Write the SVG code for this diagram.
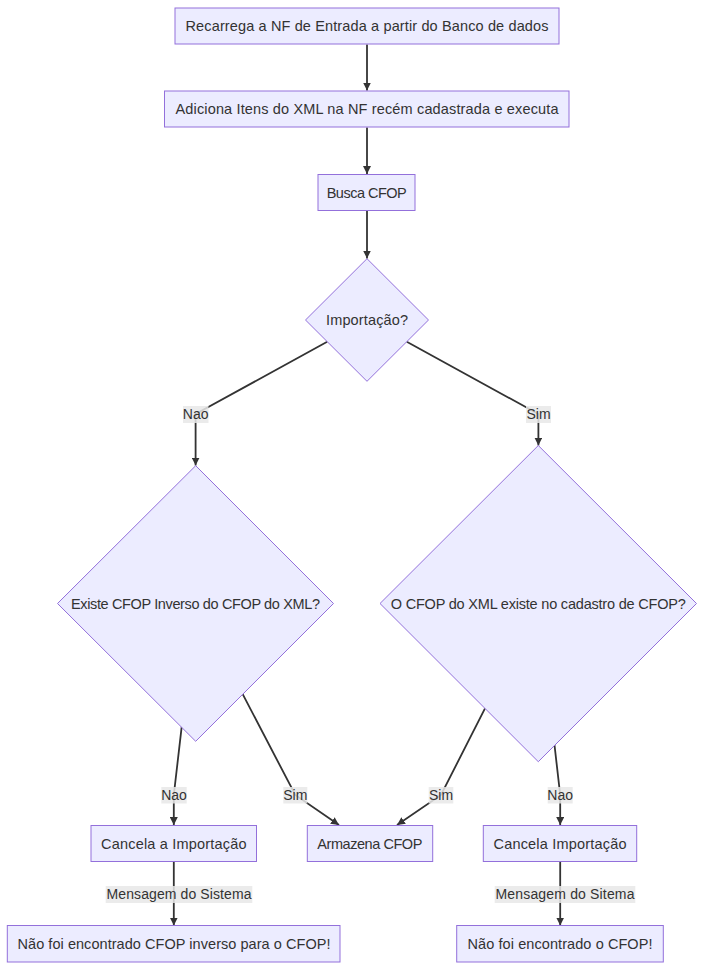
<svg xmlns="http://www.w3.org/2000/svg" width="704" height="970" viewBox="0 0 704 970">
<defs>
<marker id="arrow" viewBox="0 0 10 10" refX="10" refY="5" markerWidth="8" markerHeight="8" markerUnits="userSpaceOnUse" orient="auto">
<path d="M0,0 L10,5 L0,10 z" fill="#333333"/>
</marker>
<style>
.node rect, .node polygon { fill: #ECECFF; stroke: #9370DB; stroke-width: 1px; }
.edge path { fill: none; stroke: #333333; stroke-width: 1.8px; marker-end: url(#arrow); }
text { font-family: "Liberation Sans", Arial, sans-serif; font-size: 14.5px; fill: #333333; text-anchor: middle; }
.lbl text { font-size: 14px; }
.lbl rect { fill: #e8e8e8; fill-opacity: 0.85; }
</style>
</defs>
<rect width="704" height="970" fill="#ffffff"/>
<g id="edges" class="edge">
<path d="M367,44.5 V90.5"/>
<path d="M367,127.5 V174"/>
<path d="M367,211 V258.5"/>
<path d="M327.2,341.8 L195.6,414 L195.6,465.5"/>
<path d="M406.8,341.8 L538.4,414 L538.4,445.5"/>
<path d="M181.7,726.7 L173.8,795 L173.8,825"/>
<path d="M242.3,693.3 L295.3,795 L339,825"/>
<path d="M485,708.3 L441,795 L397,825"/>
<path d="M554.5,745 L560.2,795 L560.2,825"/>
<path d="M173.8,862 V925.5"/>
<path d="M560.2,862 V925.5"/>
</g>
<g id="edge-labels" class="lbl">
<g id="lbl-nao1"><rect x="183" y="406" width="25.5" height="17"/><text x="195.7" y="419">Nao</text></g>
<g id="lbl-sim1"><rect x="526" y="406" width="25" height="17"/><text x="538.5" y="419">Sim</text></g>
<g id="lbl-nao2"><rect x="161.3" y="787" width="25.4" height="16.5"/><text x="174" y="800">Nao</text></g>
<g id="lbl-sim2"><rect x="283.3" y="787" width="24" height="16.5"/><text x="295.3" y="800">Sim</text></g>
<g id="lbl-sim3"><rect x="428.7" y="787" width="24.6" height="16.5"/><text x="441" y="800">Sim</text></g>
<g id="lbl-nao3"><rect x="547.7" y="787" width="25" height="16.5"/><text x="560.2" y="800">Nao</text></g>
<g id="lbl-msg1"><rect x="105.7" y="886" width="146.6" height="17"/><text x="179" y="899" textLength="145">Mensagem do Sistema</text></g>
<g id="lbl-msg2"><rect x="494.7" y="886" width="140.6" height="17"/><text x="565" y="899" textLength="139">Mensagem do Sitema</text></g>
</g>
<g id="n1" class="node"><rect x="175" y="8" width="384" height="36"/><text x="367" y="31" textLength="363">Recarrega a NF de Entrada a partir do Banco de dados</text></g>
<g id="n2" class="node"><rect x="164.5" y="91" width="404.5" height="36"/><text x="367" y="114" textLength="383">Adiciona Itens do XML na NF recém cadastrada e executa</text></g>
<g id="n3" class="node"><rect x="318" y="174.5" width="97" height="36"/><text x="366.7" y="197.5" textLength="80">Busca CFOP</text></g>
<g id="n4" class="node"><polygon points="367,258.7 428.5,320 367,381.3 305.5,320"/><text x="367" y="325" textLength="82">Importação?</text></g>
<g id="n5" class="node"><polygon points="195.7,465.7 333.5,603.5 195.7,741.3 57.5,603.5"/><text x="195.5" y="608.5" textLength="249">Existe CFOP Inverso do CFOP do XML?</text></g>
<g id="n6" class="node"><polygon points="538.3,445.5 696.5,603.5 538.3,761.7 380,603.5"/><text x="538.3" y="608.5" textLength="295">O CFOP do XML existe no cadastro de CFOP?</text></g>
<g id="n7" class="node"><rect x="91" y="825.5" width="165.5" height="36"/><text x="173.8" y="848.5" textLength="145.5">Cancela a Importação</text></g>
<g id="n8" class="node"><rect x="307.3" y="825.5" width="125.4" height="36"/><text x="369.8" y="848.5" textLength="105">Armazena CFOP</text></g>
<g id="n9" class="node"><rect x="483.3" y="825.5" width="153.4" height="36"/><text x="560" y="848.5" textLength="133">Cancela Importação</text></g>
<g id="n10" class="node"><rect x="7.3" y="925.5" width="332.7" height="36.5"/><text x="174" y="949" textLength="313">Não foi encontrado CFOP inverso para o CFOP!</text></g>
<g id="n11" class="node"><rect x="456.7" y="925.5" width="206.6" height="36.5"/><text x="560" y="949" textLength="185">Não foi encontrado o CFOP!</text></g>
</svg>
